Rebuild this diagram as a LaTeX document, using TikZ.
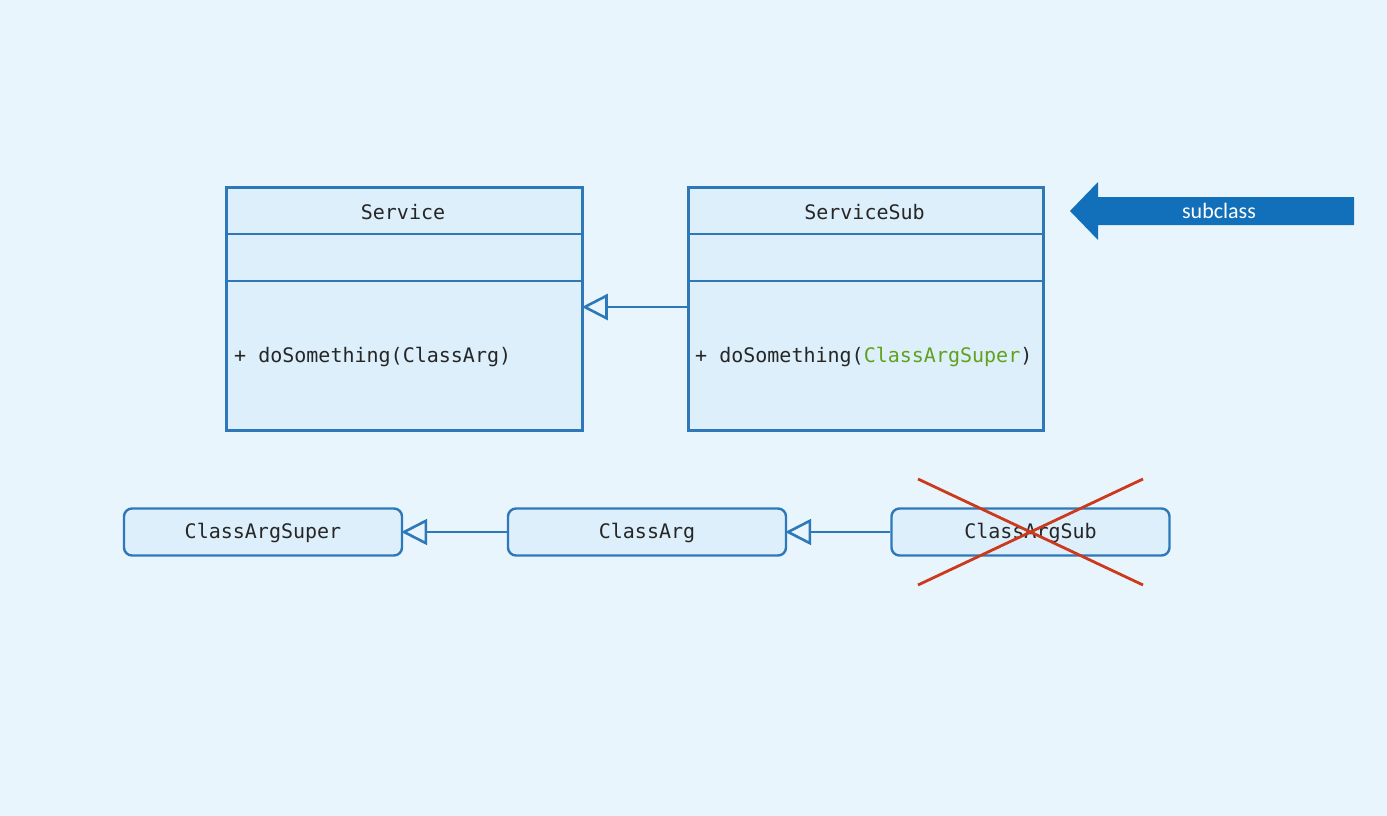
\documentclass[tikz,border=0pt]{standalone}
\usepackage{fontspec}
\setmainfont{Carlito}
\setmonofont{DejaVu Sans Mono}
\usetikzlibrary{arrows.meta,calc,shadows}

\definecolor{bgcol}{HTML}{E9F5FD}
\definecolor{boxfill}{HTML}{DDEFFA}
\definecolor{boxline}{HTML}{2E78BA}
\definecolor{arrowblue}{HTML}{1170B9}
\definecolor{txt}{HTML}{262626}
\definecolor{argsuper}{HTML}{62A11E}
\definecolor{crossred}{HTML}{CB3A1C}

\tikzset{
  umlclass/.style={draw=boxline, fill=boxfill, line width=2.8pt, rectangle,
    minimum width=356pt, minimum height=243pt, anchor=north west, inner sep=0pt,
    drop shadow={opacity=0.22, shadow xshift=2pt, shadow yshift=-2pt}},
  argbox/.style={draw=boxline, fill=boxfill, line width=2.4pt, rounded corners=8pt,
    minimum width=278pt, minimum height=47pt, inner sep=0pt,
    text height=17pt, text depth=4pt,
    font=\ttfamily\fontsize{20}{24}\selectfont, text=txt},
  divider/.style={draw=boxline, line width=2.8pt},
  classname/.style={font=\ttfamily\fontsize{20}{24}\selectfont, text=txt, inner sep=0pt},
  method/.style={font=\ttfamily\fontsize{20}{24}\selectfont, text=txt, inner sep=0pt, anchor=west},
  inherit/.style={draw=boxline, line width=2.6pt, shorten >=-2pt,
    -{Triangle[open, length=26pt, width=26pt, line width=2.6pt, fill=bgcol]}},
  cross/.style={draw=crossred, line width=2.8pt},
}

\begin{document}
\begin{tikzpicture}[x=1pt, y=-1pt]
  % backdrop
  \fill[bgcol] (0,0) rectangle (1387,816);

  % class boxes
  \node[umlclass] (svc) at (225,186) {};
  \node[umlclass, minimum width=355pt] (ssub) at (687,186) {};

  \foreach \b in {svc, ssub} {
    \draw[divider] ($(\b.north west)+(0,48)$) -- ($(\b.north east)+(0,48)$);
    \draw[divider] ($(\b.north west)+(0,95)$) -- ($(\b.north east)+(0,95)$);
  }

  \node[classname] (svcname) at (403,212) {Service};
  \node[classname] (ssubname) at (864.5,212) {ServiceSub};
  \node[method] (svcop) at (234,356.5) {+ doSomething(ClassArg)};
  \node[method] (ssubop) at (695,356.5) {+ doSomething(\textcolor{argsuper}{ClassArgSuper})};

  % ServiceSub extends Service
  \coordinate (ssubport) at (ssub.west |- 0,307);
  \coordinate (svcport) at (svc.east |- 0,307);
  \draw[inherit] (ssubport) -- (svcport);

  % subclass pointer
  \fill[arrowblue] (1354,197) -- (1098,197) -- (1098,182) -- (1070,211)
    -- (1098,240) -- (1098,225) -- (1354,225) -- cycle;
  \node[text=white, font=\fontsize{22}{26}\selectfont, inner sep=0pt] (sublabel) at (1219,211) {subclass};

  % argument hierarchy
  \node[argbox] (argsup) at (263,532) {ClassArgSuper};
  \node[argbox] (arg) at (647,532) {ClassArg};
  \node[argbox] (argsub) at (1030.5,532) {ClassArgSub};

  \draw[inherit] (arg) -- (argsup);
  \draw[inherit] (argsub) -- (arg);

  % struck out
  \coordinate (xa) at (918,479);
  \coordinate (xb) at (1143,585);
  \coordinate (xc) at (1143,479);
  \coordinate (xd) at (918,585);
  \draw[cross] (xa) -- (xb);
  \draw[cross] (xc) -- (xd);
\end{tikzpicture}
\end{document}
